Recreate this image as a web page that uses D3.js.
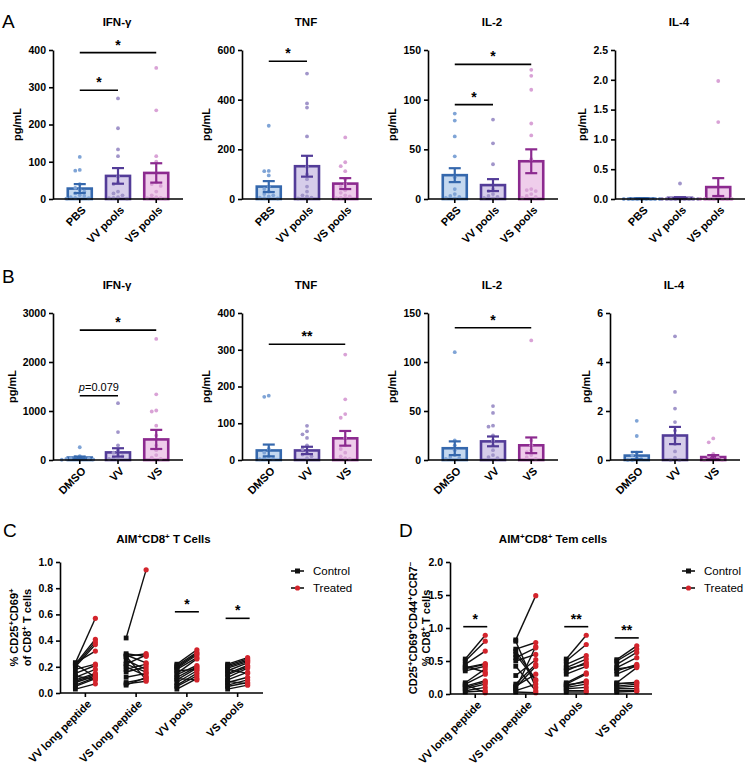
<!DOCTYPE html>
<html><head><meta charset="utf-8">
<script src="https://cdn.jsdelivr.net/npm/d3@7"></script>
<style>body{margin:0;background:#fff} svg{font-family:"Liberation Sans",Arial,sans-serif}</style>
</head><body><svg id="c" width="750" height="766"></svg>
<script>
// ---------------- DATA ----------------
const A_groups = ["PBS", "VV pools", "VS pools"];
const B_groups = ["DMSO", "VV", "VS"];
const cytokines = ["IFN-γ", "TNF", "IL-2", "IL-4"];

const A_IFN_mean = [28, 62, 70], A_IFN_sem = [12, 21, 26];
const A_IFN_pts = [[113,78,76,40,30,25,20,15,10,8,5,3,2,1],[270,190,133,115,60,45,40,20,15,10,5,3,2,1],[352,238,115,100,45,40,35,20,10,5,3,2,1]];
const A_IFN_ticks = [0,100,200,300,400];
const A_IFN_sig = [[0,1,292,"*"],[0,2,393,"*"]];

const A_TNF_mean = [50, 132, 62], A_TNF_sem = [22, 42, 22];
const A_TNF_pts = [[295,113,112,95,50,40,30,20,15,10,5,3,2],[505,385,368,252,130,100,80,50,30,15,10,5,2],[248,148,132,112,80,60,50,35,25,15,10,5,3]];
const A_TNF_ticks = [0,200,400,600];
const A_TNF_sig = [[0,1,555,"*"]];

const A_IL2_mean = [24, 14, 38], A_IL2_sem = [7, 6, 12];
const A_IL2_pts = [[86,79,63,43,22,10,5,3,2,1,0.5],[80,56,35,10,8,5,3,2,1,0.5],[130,124,110,76,64,40,10,9,8,5,3,2,1]];
const A_IL2_ticks = [0,50,100,150];
const A_IL2_sig = [[0,1,95,"*"],[0,2,135.5,"*"]];

const A_IL4_mean = [0.01, 0.02, 0.2], A_IL4_sem = [0, 0.01, 0.15];
const A_IL4_pts = [[0,0,0,0,0,0,0,0,0,0],[0.26,0,0,0,0,0,0,0,0,0],[1.98,1.29,0.05,0,0,0,0,0,0,0]];
const A_IL4_ticks = [0,0.5,1,1.5,2,2.5];
const A_IL4_sig = [];

const B_IFN_mean = [50, 155, 420], B_IFN_sem = [20, 85, 195];
const B_IFN_pts = [[260,80,60,50,40,30,20,10,5],[1160,570,300,200,150,100,80,50,20,10],[2470,1340,1010,990,700,500,300,200,100,50,20]];
const B_IFN_ticks = [0,1000,2000,3000];
const B_IFN_sig = [[0,1,1312,"p=0.079"],[0,2,2650,"*"]];

const B_TNF_mean = [26, 26, 59], B_TNF_sem = [16, 10, 20];
const B_TNF_pts = [[175,172,30,20,10,5,3,2],[93,78,70,60,40,30,20,15,10,5],[287,165,125,115,60,40,30,20,10,5,3]];
const B_TNF_ticks = [0,100,200,300,400];
const B_TNF_sig = [[0,2,315,"**"]];

const B_IL2_mean = [12, 19, 15], B_IL2_sem = [7, 5, 8];
const B_IL2_pts = [[110,20,15,10,5,3,2,1],[55,48,35,34,25,20,15,10,5,3,2],[122,20,15,10,8,5,3,1]];
const B_IL2_ticks = [0,50,100,150];
const B_IL2_sig = [[0,2,135,"*"]];

const B_IL4_mean = [0.18, 1.0, 0.12], B_IL4_sem = [0.15, 0.35, 0.08];
const B_IL4_pts = [[1.6,0.98,0.3,0.2,0.1,0.05,0,0],[5.05,2.78,2.1,1.55,1.2,0.9,0.65,0.35,0.1,0,0],[0.88,0.72,0.25,0.15,0.1,0.05,0,0]];
const B_IL4_ticks = [0,2,4,6];
const B_IL4_sig = [];

const pairCats = ["VV long peptide", "VS long peptide", "VV pools", "VS pools"];
const pairSeries = ["Control", "Treated"];

const C_control = [
  [0.23,0.22,0.21,0.20,0.23,0.18,0.15,0.12,0.10,0.08,0.06,0.05,0.03,0.22,0.13,0.09],
  [0.42,0.30,0.29,0.28,0.25,0.22,0.20,0.18,0.16,0.12,0.08,0.07,0.06,0.22,0.28],
  [0.22,0.21,0.20,0.19,0.18,0.15,0.14,0.12,0.10,0.08,0.06,0.05,0.03,0.17,0.11],
  [0.22,0.21,0.20,0.19,0.17,0.15,0.14,0.12,0.10,0.08,0.06,0.05,0.03,0.18,0.09]];
const C_treated = [
  [0.57,0.41,0.39,0.37,0.32,0.22,0.21,0.18,0.15,0.13,0.12,0.11,0.07,0.12,0.10,0.14],
  [0.94,0.28,0.23,0.30,0.18,0.29,0.13,0.22,0.20,0.15,0.11,0.09,0.12,0.16,0.10],
  [0.33,0.31,0.30,0.29,0.27,0.26,0.21,0.20,0.19,0.17,0.15,0.13,0.11,0.18,0.10],
  [0.27,0.26,0.25,0.24,0.23,0.21,0.20,0.19,0.16,0.12,0.10,0.08,0.06,0.15,0.07]];
const C_ticks = [0,0.2,0.4,0.6,0.8,1.0];
const C_sig = [[2,0.62,"*"],[3,0.57,"*"]];

const D_control = [
  [0.53,0.50,0.45,0.40,0.38,0.35,0.17,0.15,0.12,0.10,0.08,0.05,0.03,0.42,0.14],
  [0.82,0.80,0.68,0.60,0.55,0.50,0.42,0.28,0.15,0.12,0.10,0.05,0.03,0.65,0.08],
  [0.53,0.50,0.45,0.40,0.35,0.30,0.17,0.15,0.12,0.10,0.08,0.05,0.03,0.38,0.14],
  [0.52,0.50,0.45,0.40,0.35,0.30,0.17,0.15,0.12,0.10,0.08,0.05,0.03,0.38,0.16]];
const D_treated = [
  [0.89,0.80,0.65,0.46,0.45,0.42,0.38,0.30,0.20,0.18,0.15,0.10,0.05,0.33,0.02],
  [1.49,0.10,0.78,0.20,0.70,0.60,0.05,0.52,0.45,0.30,0.42,0.15,0.02,0.22,0.72],
  [0.89,0.75,0.58,0.53,0.48,0.42,0.32,0.30,0.20,0.15,0.10,0.05,0.03,0.45,0.18],
  [0.73,0.68,0.63,0.55,0.45,0.43,0.40,0.18,0.15,0.12,0.08,0.05,0.04,0.42,0.17]];
const D_ticks = [0,0.5,1.0,1.5,2.0];
const D_sig = [[0,1.02,"*"],[2,1.02,"**"],[3,0.85,"**"]];

// ---------------- STYLE ----------------
const strokeCols = ["#3568ad", "#533c98", "#8c2a8f"];
const fillCols = ["#c4d8ef", "#d6cdea", "#efcdeb"];
const ptCols = ["#7fa4d6", "#a195ca", "#d9a2d6"];
const RED = "#d3242c";

const svg = d3.select("#c");

function rich(sel, parts) {
  parts.forEach(p => {
    const t = sel.append("tspan").text(p[0]);
    if (p[1] === "sup") t.attr("baseline-shift", "super").attr("font-size", "70%");
  });
}

function styleAxis(g) {
  g.select(".domain").attr("stroke", "#000").attr("stroke-width", 1.6);
  g.selectAll(".tick line").attr("stroke", "#000").attr("stroke-width", 1.6);
  g.selectAll(".tick text").attr("font-weight", "bold").attr("font-size", 10.5).attr("fill", "#000")
   .attr("font-family", '"Liberation Sans",Arial,sans-serif');
}

function barPanel(x0, top, bottom, cats, title, mean, sem, pts, ticks, sig, fmt) {
  const g = svg.append("g");
  const x = d3.scalePoint().domain(cats).range([x0, x0 + 130]).padding(0.7);
  const y = d3.scaleLinear().domain([0, ticks[ticks.length - 1]]).range([bottom, top]);
  const bw = 24;
  cats.forEach((c, i) => {
    const cx = x(c);
    g.append("rect").attr("x", cx - bw / 2).attr("width", bw)
      .attr("y", y(mean[i])).attr("height", Math.max(0, bottom - y(mean[i])))
      .attr("fill", fillCols[i]).attr("stroke", strokeCols[i]).attr("stroke-width", 2.6);
    const placed = [];
    const offs = [0, -4.5, 4.5, -9, 9, -13.5, 13.5, -18, 18];
    pts[i].slice().sort((a, b) => b - a).forEach(v => {
      const py = y(v);
      let ox = 0;
      for (const o of offs) {
        if (!placed.some(p => Math.abs(p[1] - py) < 4 && Math.abs(p[0] - o) < 4)) { ox = o; break; }
      }
      placed.push([ox, py]);
      g.append("circle").attr("cx", cx + ox).attr("cy", py).attr("r", 1.9).attr("fill", ptCols[i]);
    });
    const lo = y(Math.max(0, mean[i] - sem[i])), hi = y(mean[i] + sem[i]);
    const eb = g.append("g").attr("stroke", strokeCols[i]).attr("stroke-width", 2.2);
    eb.append("line").attr("x1", cx).attr("x2", cx).attr("y1", lo).attr("y2", hi);
    eb.append("line").attr("x1", cx - 6).attr("x2", cx + 6).attr("y1", hi).attr("y2", hi);
    eb.append("line").attr("x1", cx - 6).attr("x2", cx + 6).attr("y1", lo).attr("y2", lo);
  });
  const ya = g.append("g").attr("transform", `translate(${x0},0)`)
    .call(d3.axisLeft(y).tickValues(ticks).tickSize(4).tickSizeOuter(0).tickFormat(fmt || d3.format("d")));
  styleAxis(ya);
  const xa = g.append("g").attr("transform", `translate(0,${bottom})`);
  xa.append("line").attr("x1", x0).attr("x2", x0 + 130).attr("stroke", "#000").attr("stroke-width", 1.6);
  cats.forEach(c => {
    xa.append("line").attr("x1", x(c)).attr("x2", x(c)).attr("y1", 0).attr("y2", 4).attr("stroke", "#000").attr("stroke-width", 1.6);
    xa.append("text").attr("transform", `translate(${x(c) + 4},${9}) rotate(-45)`)
      .attr("text-anchor", "end").attr("dy", "0.35em").attr("font-weight", "bold").attr("font-size", 11).text(c);
  });
  const bb = ya.node().getBBox();
  g.append("text").attr("transform", `translate(${x0 + bb.x - 7},${(top + bottom) / 2}) rotate(-90)`)
    .attr("text-anchor", "middle").attr("font-weight", "bold").attr("font-size", 11).text("pg/mL");
  g.append("text").attr("x", x0 + 64).attr("y", top - 24).attr("text-anchor", "middle")
    .attr("font-weight", "bold").attr("font-size", 11.5).text(title);
  sig.forEach(s => {
    const xa1 = x(cats[s[0]]), xa2 = x(cats[s[1]]), yy = y(s[2]);
    g.append("line").attr("x1", xa1).attr("x2", xa2).attr("y1", yy).attr("y2", yy).attr("stroke", "#000").attr("stroke-width", 1.6);
    if (s[3].startsWith("p=")) {
      const t = g.append("text").attr("x", (xa1 + xa2) / 2).attr("y", yy - 5).attr("text-anchor", "middle").attr("font-size", 11);
      t.append("tspan").attr("font-style", "italic").text("p");
      t.append("tspan").text(s[3].slice(1));
    } else {
      g.append("text").attr("x", (xa1 + xa2) / 2).attr("y", yy - 3).attr("text-anchor", "middle")
        .attr("font-weight", "bold").attr("font-size", 14).text(s[3]);
    }
  });
}

const A_x0 = [53, 242, 428, 615], B_x0 = [53, 242, 428, 610];
const fmt1 = d3.format(".1f");
barPanel(A_x0[0], 50, 199, A_groups, cytokines[0], A_IFN_mean, A_IFN_sem, A_IFN_pts, A_IFN_ticks, A_IFN_sig);
barPanel(A_x0[1], 50, 199, A_groups, cytokines[1], A_TNF_mean, A_TNF_sem, A_TNF_pts, A_TNF_ticks, A_TNF_sig);
barPanel(A_x0[2], 50, 199, A_groups, cytokines[2], A_IL2_mean, A_IL2_sem, A_IL2_pts, A_IL2_ticks, A_IL2_sig);
barPanel(A_x0[3], 50, 199, A_groups, cytokines[3], A_IL4_mean, A_IL4_sem, A_IL4_pts, A_IL4_ticks, A_IL4_sig, fmt1);
barPanel(B_x0[0], 313, 460, B_groups, cytokines[0], B_IFN_mean, B_IFN_sem, B_IFN_pts, B_IFN_ticks, B_IFN_sig);
barPanel(B_x0[1], 313, 460, B_groups, cytokines[1], B_TNF_mean, B_TNF_sem, B_TNF_pts, B_TNF_ticks, B_TNF_sig);
barPanel(B_x0[2], 313, 460, B_groups, cytokines[2], B_IL2_mean, B_IL2_sem, B_IL2_pts, B_IL2_ticks, B_IL2_sig);
barPanel(B_x0[3], 313, 460, B_groups, cytokines[3], B_IL4_mean, B_IL4_sem, B_IL4_pts, B_IL4_ticks, B_IL4_sig);

function pairedPanel(x0, x1, top, bottom, ticks, fmt, control, treated, sig, titleParts, ylab1, ylab2, ylabX, legX) {
  const g = svg.append("g");
  const x = d3.scalePoint().domain(pairCats).range([x0, x1]).padding(0.5);
  const y = d3.scaleLinear().domain([0, ticks[ticks.length - 1]]).range([bottom, top]);
  const d = 10;
  pairCats.forEach((c, i) => {
    const cx = x(c);
    control[i].forEach((v, j) => {
      g.append("line").attr("x1", cx - d).attr("x2", cx + d).attr("y1", y(v)).attr("y2", y(treated[i][j]))
        .attr("stroke", "#111").attr("stroke-width", 1.4);
    });
    control[i].forEach(v => g.append("rect").attr("x", cx - d - 2.4).attr("y", y(v) - 2.4).attr("width", 4.8).attr("height", 4.8).attr("fill", "#111"));
    treated[i].forEach(v => g.append("circle").attr("cx", cx + d).attr("cy", y(v)).attr("r", 2.6).attr("fill", RED));
  });
  const ya = g.append("g").attr("transform", `translate(${x0},0)`)
    .call(d3.axisLeft(y).tickValues(ticks).tickSize(4).tickSizeOuter(0).tickFormat(fmt));
  styleAxis(ya);
  const xa = g.append("g").attr("transform", `translate(0,${bottom})`);
  xa.append("line").attr("x1", x0).attr("x2", x1).attr("stroke", "#000").attr("stroke-width", 1.6);
  pairCats.forEach(c => {
    xa.append("line").attr("x1", x(c)).attr("x2", x(c)).attr("y1", 0).attr("y2", 4).attr("stroke", "#000").attr("stroke-width", 1.6);
    xa.append("text").attr("transform", `translate(${x(c) + 4},${9}) rotate(-45)`)
      .attr("text-anchor", "end").attr("dy", "0.35em").attr("font-weight", "bold").attr("font-size", 11).text(c);
  });
  const mid = (top + bottom) / 2;
  const t1 = g.append("text").attr("transform", `translate(${ylabX[0]},${mid}) rotate(-90)`).attr("text-anchor", "middle")
    .attr("font-weight", "bold").attr("font-size", 11);
  rich(t1, ylab1);
  const t2 = g.append("text").attr("transform", `translate(${ylabX[1]},${mid}) rotate(-90)`).attr("text-anchor", "middle")
    .attr("font-weight", "bold").attr("font-size", 11);
  rich(t2, ylab2);
  const tt = g.append("text").attr("x", (x0 + x1) / 2 + 2).attr("y", top - 19).attr("text-anchor", "middle")
    .attr("font-weight", "bold").attr("font-size", 11.5);
  rich(tt, titleParts);
  sig.forEach(s => {
    const cx = x(pairCats[s[0]]), yy = y(s[1]);
    g.append("line").attr("x1", cx - 12).attr("x2", cx + 12).attr("y1", yy).attr("y2", yy).attr("stroke", "#000").attr("stroke-width", 1.6);
    g.append("text").attr("x", cx).attr("y", yy - 3).attr("text-anchor", "middle").attr("font-weight", "bold").attr("font-size", 14).text(s[2]);
  });
  pairSeries.forEach((s, i) => {
    const ly = 571 + i * 17;
    g.append("line").attr("x1", legX).attr("x2", legX + 13).attr("y1", ly).attr("y2", ly).attr("stroke", "#111").attr("stroke-width", 1.6);
    if (i === 0) g.append("rect").attr("x", legX + 4).attr("y", ly - 2.5).attr("width", 5).attr("height", 5).attr("fill", "#111");
    else g.append("circle").attr("cx", legX + 6.5).attr("cy", ly).attr("r", 2.6).attr("fill", RED);
    g.append("text").attr("x", legX + 22).attr("y", ly).attr("dy", "0.35em").attr("font-size", 11.5).text(s);
  });
}

pairedPanel(60, 263, 562, 693, C_ticks, d3.format(".1f"), C_control, C_treated, C_sig,
  [["AIM"], ["+", "sup"], ["CD8"], ["+", "sup"], [" T Cells"]],
  [["% CD25"], ["+", "sup"], ["CD69"], ["+", "sup"]],
  [["of CD8"], ["+", "sup"], [" T cells"]],
  [18, 31], 291);
pairedPanel(450, 652, 562, 694, D_ticks, d3.format(".1f"), D_control, D_treated, D_sig,
  [["AIM"], ["+", "sup"], ["CD8"], ["+", "sup"], [" Tem cells"]],
  [["CD25"], ["+", "sup"], ["CD69"], ["+", "sup"], ["CD44"], ["+", "sup"], ["CCR7"], ["−", "sup"]],
  [["% CD8"], ["+", "sup"], [" T cells"]],
  [417, 430], 682);

[["A", 2, 28], ["B", 2, 283], ["C", 3, 537], ["D", 399, 537]].forEach(p => {
  svg.append("text").attr("x", p[1]).attr("y", p[2]).attr("font-size", 19).text(p[0]);
});
</script></body></html>
